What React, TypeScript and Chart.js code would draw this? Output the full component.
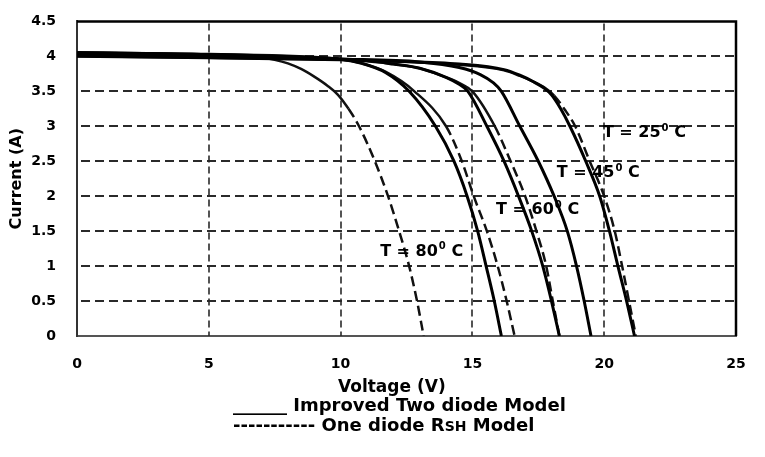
import { useEffect, useRef } from 'react';
import { Chart, registerables } from 'chart.js';

Chart.register(...registerables);

// Improved two diode model (solid curves): voltage (V) / current (A)
const v25Two = [0, 5, 10, 12, 14.5, 16.2, 16.8, 17.3, 17.7, 18.0, 18.35, 18.7, 19.3, 19.83, 20.2, 20.52, 20.85, 21.15];
const i25Two = [4.0, 3.98, 3.95, 3.93, 3.89, 3.81, 3.73, 3.64, 3.55, 3.45, 3.25, 3.0, 2.5, 2.0, 1.5, 1.0, 0.5, 0];

const v45Two = [0, 5, 10, 13, 14.5, 15.3, 15.8, 16.1, 16.8, 17.5, 18.1, 18.6, 18.95, 19.24, 19.5];
const i45Two = [4.02, 4.0, 3.96, 3.92, 3.84, 3.74, 3.62, 3.5, 3.0, 2.5, 2.0, 1.5, 1.0, 0.5, 0];

const v60Two = [0, 5, 9, 11, 12, 13, 14, 14.5, 14.83, 15.55, 16.2, 16.75, 17.25, 17.67, 18.0, 18.3];
const i60Two = [4.03, 4.01, 3.98, 3.94, 3.89, 3.83, 3.7, 3.6, 3.5, 3.0, 2.5, 2.0, 1.5, 1.0, 0.5, 0];

const v80Two = [0, 5, 9, 10, 10.8, 11.7, 12.6, 13.6, 14.3, 14.8, 15.2, 15.52, 15.83, 16.1];
const i80Two = [4.05, 4.03, 3.98, 3.96, 3.9, 3.77, 3.5, 3.0, 2.5, 2.0, 1.5, 1.0, 0.5, 0];

// One diode RSH model (dashed curves)
const v25One = [0, 5, 10, 14.5, 16.2, 16.8, 17.3, 17.75, 18.1, 18.5, 18.9, 19.45, 20.0, 20.4, 20.68, 20.94, 21.2];
const i25One = [4.0, 3.98, 3.95, 3.88, 3.8, 3.72, 3.64, 3.55, 3.44, 3.24, 3.0, 2.5, 2.0, 1.5, 1.0, 0.5, 0];

const v45One = [0, 5, 9, 11, 12, 13, 14, 14.6, 15.0, 15.85, 16.45, 17.0, 17.43, 17.8, 18.05, 18.3];
const i45One = [4.03, 4.01, 3.98, 3.93, 3.89, 3.83, 3.7, 3.6, 3.5, 3.0, 2.5, 2.0, 1.5, 1.0, 0.5, 0];

const v60One = [0, 5, 10, 10.8, 11.7, 12.8, 14.0, 14.6, 15.05, 15.55, 15.96, 16.3, 16.6];
const i60One = [4.05, 4.03, 3.96, 3.9, 3.78, 3.5, 3.0, 2.5, 2.0, 1.5, 1.0, 0.5, 0];

const v80One = [0, 3, 6, 7, 7.5, 8, 8.5, 9, 9.5, 9.9, 10.3, 10.7, 11.3, 11.8, 12.22, 12.6, 12.9, 13.15];
const i80One = [4.06, 4.04, 4.0, 3.98, 3.95, 3.9, 3.82, 3.71, 3.58, 3.45, 3.25, 3.0, 2.5, 2.0, 1.5, 1.0, 0.5, 0];

const tempLabels = [
  { text: 'T = 25', x: 19.95, y: 2.9 },
  { text: 'T = 45', x: 18.2, y: 2.33 },
  { text: 'T = 60', x: 15.9, y: 1.8 },
  { text: 'T = 80', x: 11.5, y: 1.21 },
];

const FONT = '"DejaVu Sans", sans-serif';

const pts = (v: number[], i: number[]) => v.map((x, k) => ({ x, y: i[k] }));

const solid = (label: string, v: number[], i: number[]) => ({
  label,
  data: pts(v, i),
  borderColor: '#000',
  borderWidth: 3,
  pointRadius: 0,
  cubicInterpolationMode: 'monotone' as const,
});

const dashed = (label: string, v: number[], i: number[]) => ({
  label,
  data: pts(v, i),
  borderColor: '#111',
  borderWidth: 2.5,
  pointRadius: 0,
  cubicInterpolationMode: 'monotone' as const,
  segment: {
    borderDash: (ctx: any) => (ctx.p0.parsed.y > 3.44 ? [] : [10, 5]),
  },
});

// dashed grid drawn from the scales' own ticks
const gridPlugin = {
  id: 'dashGrid',
  beforeDatasetsDraw(chart: any) {
    const { ctx, chartArea, scales } = chart;
    ctx.save();
    ctx.strokeStyle = '#2a2a2a';
    ctx.lineWidth = 2;
    ctx.setLineDash([9, 5]);
    scales.y.ticks.forEach((t: any) => {
      if (t.value <= scales.y.min || t.value >= scales.y.max) return;
      const y = Math.round(scales.y.getPixelForValue(t.value));
      ctx.beginPath();
      ctx.moveTo(chartArea.left + 4, y);
      ctx.lineTo(chartArea.right, y);
      ctx.stroke();
    });
    ctx.lineWidth = 1.6;
    ctx.setLineDash([7, 4]);
    scales.x.ticks.forEach((t: any) => {
      if (t.value <= scales.x.min || t.value >= scales.x.max) return;
      const x = Math.round(scales.x.getPixelForValue(t.value));
      ctx.beginPath();
      ctx.moveTo(x, chartArea.top + 2);
      ctx.lineTo(x, chartArea.bottom);
      ctx.stroke();
    });
    ctx.restore();
  },
};

// solid frame on top and right, plus the temperature annotations
const framePlugin = {
  id: 'frame',
  afterDraw(chart: any) {
    const { ctx, chartArea, scales } = chart;
    ctx.save();
    ctx.strokeStyle = '#000';
    ctx.lineWidth = 2.5;
    ctx.beginPath();
    ctx.moveTo(chartArea.left, chartArea.top);
    ctx.lineTo(chartArea.right, chartArea.top);
    ctx.lineTo(chartArea.right, chartArea.bottom);
    ctx.stroke();

    ctx.fillStyle = '#000';
    ctx.textBaseline = 'middle';
    ctx.textAlign = 'left';
    tempLabels.forEach((t) => {
      const x = scales.x.getPixelForValue(t.x);
      const y = scales.y.getPixelForValue(t.y);
      ctx.font = `bold 16px ${FONT}`;
      ctx.fillText(t.text, x, y);
      const w = ctx.measureText(t.text).width;
      ctx.font = `bold 10px ${FONT}`;
      ctx.fillText('0', x + w + 1, y - 5);
      const w2 = ctx.measureText('0').width;
      ctx.font = `bold 16px ${FONT}`;
      ctx.fillText(' C', x + w + w2 + 1, y);
    });
    ctx.restore();
  },
};

export default function App() {
  const canvasRef = useRef<HTMLCanvasElement>(null);
  const chartRef = useRef<Chart | null>(null);

  useEffect(() => {
    if (!canvasRef.current) return;
    if (chartRef.current) chartRef.current.destroy();

    chartRef.current = new Chart(canvasRef.current, {
      type: 'line',
      data: {
        datasets: [
          solid('Improved Two diode Model 25', v25Two, i25Two),
          solid('Improved Two diode Model 45', v45Two, i45Two),
          solid('Improved Two diode Model 60', v60Two, i60Two),
          solid('Improved Two diode Model 80', v80Two, i80Two),
          dashed('One diode RSH Model 25', v25One, i25One),
          dashed('One diode RSH Model 45', v45One, i45One),
          dashed('One diode RSH Model 60', v60One, i60One),
          dashed('One diode RSH Model 80', v80One, i80One),
        ] as any,
      },
      options: {
        animation: false,
        responsive: true,
        maintainAspectRatio: false,
        layout: { padding: { left: 0, top: 16, right: 29, bottom: 0 } },
        plugins: {
          legend: { display: false },
          tooltip: { enabled: false },
        },
        scales: {
          x: {
            type: 'linear',
            min: 0,
            max: 25,
            afterFit: (scale: any) => {
              scale.height = 121;
            },
            ticks: {
              stepSize: 5,
              padding: 12,
              color: '#000',
              font: { family: FONT, size: 14, weight: 'bold' },
            },
            grid: { display: false },
            border: { color: '#555', width: 2 },
          },
          y: {
            type: 'linear',
            min: 0,
            max: 4.5,
            afterFit: (scale: any) => {
              scale.width = 77;
            },
            ticks: {
              stepSize: 0.5,
              padding: 13,
              color: '#000',
              font: { family: FONT, size: 14, weight: 'bold' },
              callback: (value: any) => String(value),
            },
            grid: { display: false },
            border: { color: '#333', width: 2 },
            title: {
              display: true,
              text: 'Current (A)',
              color: '#000',
              font: { family: FONT, size: 16, weight: 'bold' },
              padding: { top: 7, bottom: 0 },
            },
          },
        },
      } as any,
      plugins: [gridPlugin, framePlugin],
    });

    return () => {
      if (chartRef.current) {
        chartRef.current.destroy();
        chartRef.current = null;
      }
    };
  }, []);

  const textStyle = {
    position: 'absolute' as const,
    fontFamily: FONT,
    fontWeight: 'bold' as const,
    color: '#000',
    whiteSpace: 'pre' as const,
  };

  return (
    <div style={{ position: 'fixed', left: 0, top: 0, width: 765, height: 457, background: '#fff' }}>
      <canvas ref={canvasRef} style={{ display: 'block' }}></canvas>
      <div style={{ ...textStyle, left: 338, top: 376, fontSize: 17, lineHeight: '20px' }}>Voltage (V)</div>
      <div style={{ ...textStyle, left: 233, top: 395, fontSize: 18, lineHeight: '20px' }}>
        ______ Improved Two diode Model
      </div>
      <div style={{ ...textStyle, left: 233, top: 415, fontSize: 18, lineHeight: '20px' }}>
        ----------- One diode R<span style={{ fontSize: 14 }}>SH</span> Model
      </div>
    </div>
  );
}
